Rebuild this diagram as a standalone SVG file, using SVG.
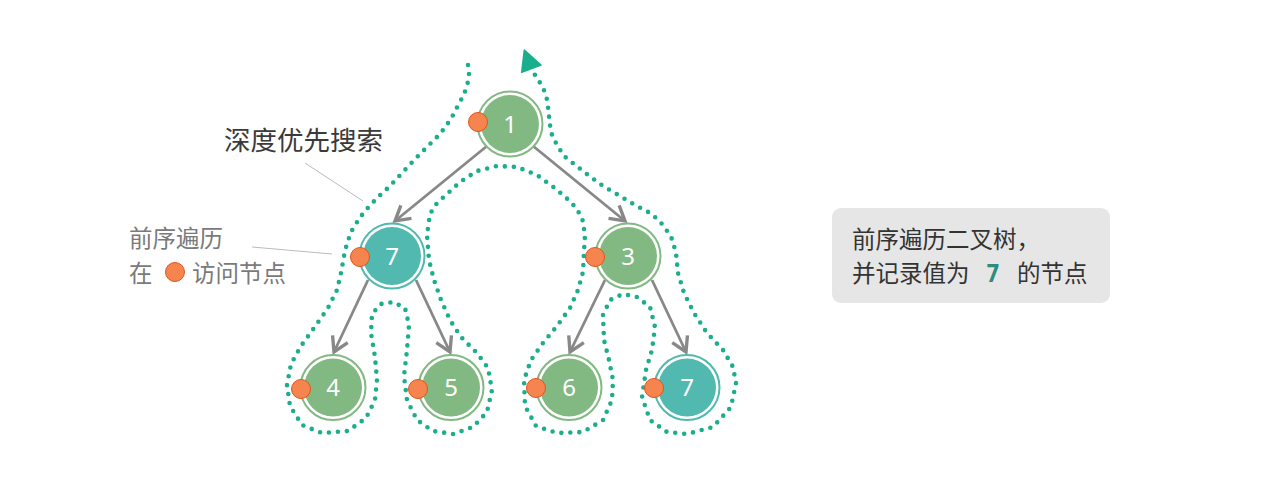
<svg xmlns="http://www.w3.org/2000/svg" width="1280" height="486" viewBox="0 0 1280 486">
<style>
.ring-g{fill:none;stroke:#82b982;stroke-width:2}
.fill-g{fill:#82b982}
.ring-t{fill:none;stroke:#52b9b0;stroke-width:2}
.fill-t{fill:#52b9b0}
.num{font-family:"Noto Sans","DejaVu Sans",sans-serif;font-size:24px;fill:#ffffff;text-anchor:middle}
.dot{fill:#f5844f;stroke:#e0541a;stroke-width:1}
.edge{stroke:#888888;stroke-width:2.8;fill:none;marker-end:url(#arr)}
.cjk{font-family:"Noto Sans CJK SC","Noto Sans",sans-serif}
.lead{stroke:#bbbbbb;stroke-width:1}
</style>
<defs>
<marker id="arr" markerUnits="userSpaceOnUse" markerWidth="24" markerHeight="24" refX="0" refY="0" viewBox="-14 -10 16 20" orient="auto">
<path d="M-12,-7 L0,0 L-12,7" fill="none" stroke="#888888" stroke-width="2.8" stroke-linejoin="miter"/>
</marker>
</defs>
<rect width="1280" height="486" fill="#ffffff"/>

<g id="connectors">
<line class="edge" x1="487" y1="146" x2="395" y2="221"/>
<line class="edge" x1="533" y1="146" x2="625" y2="221"/>
<line class="edge" x1="368" y1="280" x2="334" y2="352"/>
<line class="edge" x1="416" y1="280" x2="450" y2="352"/>
<line class="edge" x1="605" y1="280" x2="570" y2="352"/>
<line class="edge" x1="652" y1="280" x2="686" y2="352"/>
</g>

<g id="dfs-path">
<path d="M468,65 L469,74 467.5,84 464.5,93 460,102 455.5,110 451.5,118 446,126 440,134 430,144 417,157 403,172 390,186 377,198 364,212 353,228 347,243 344,256 341,273 337,290 328,308 314,328 301,346 291,364 287,385 290,406 302,425 322,433 348,431 366,418 375,400 377,380 375,357 371,333 372,314 381,304 393,302 405,308 409,325 407,350 404,376 407,400 417,420 433,431 453,434 473,427 487,412 492,390 488,368 477,353 461,337 450,320 441,300 434,280 429,260 427,235 430,214 437,203 447,194 460,182 477,171 497,166 517,167 537,175 556,189 572,203 582,217 585,235 584,252 583,272 578,290 570,308 557,326 543,343 531,360 524,380 525,406 536,426 557,433 583,432 603,420 612,400 613,380 609,360 604,340 603,315 610,300 623,294 637,297 650,307 655,327 652,350 646,370 642,397 650,420 667,432 687,434 713,427 731,407 736,383 733,367 723,350 707,333 694,313 684,293 678,273 676,253 672,239 664,226 652,214 635,205 620,196 603,186 588,175 574,164 564,156 557,145 552,135 550,125 549,116 548,107 546.5,97 543.5,89 539,81 533,72" fill="none" stroke="#1aae8c" stroke-width="4.6" stroke-linecap="round" stroke-linejoin="round" stroke-dasharray="0 9"/>
<polygon points="524.3,50 541,65 521.7,72.3" fill="#1aae8c" stroke="#1aae8c" stroke-width="1.5" stroke-linejoin="round"/>
</g>

<g id="node-1">
<circle class="ring-g" cx="510" cy="124" r="32.5"/>
<circle class="fill-g" cx="510" cy="124" r="29"/>
<text class="num" x="510" y="132.5">1</text>
<circle class="dot" cx="478" cy="122" r="9.5"/>
</g>
<g id="node-7a">
<circle class="ring-t" cx="392" cy="256" r="32.5"/>
<circle class="fill-t" cx="392" cy="256" r="29"/>
<text class="num" x="392" y="264.5">7</text>
<circle class="dot" cx="360" cy="257" r="9.5"/>
</g>
<g id="node-3">
<circle class="ring-g" cx="628" cy="256" r="32.5"/>
<circle class="fill-g" cx="628" cy="256" r="29"/>
<text class="num" x="628" y="264.5">3</text>
<circle class="dot" cx="595" cy="257" r="9.5"/>
</g>
<g id="node-4">
<circle class="ring-g" cx="333" cy="387.5" r="32.5"/>
<circle class="fill-g" cx="333" cy="387.5" r="29"/>
<text class="num" x="333" y="396">4</text>
<circle class="dot" cx="301" cy="389" r="9.5"/>
</g>
<g id="node-5">
<circle class="ring-g" cx="451" cy="387.5" r="32.5"/>
<circle class="fill-g" cx="451" cy="387.5" r="29"/>
<text class="num" x="451" y="396">5</text>
<circle class="dot" cx="418" cy="389" r="9.5"/>
</g>
<g id="node-6">
<circle class="ring-g" cx="569" cy="387.5" r="32.5"/>
<circle class="fill-g" cx="569" cy="387.5" r="29"/>
<text class="num" x="569" y="396">6</text>
<circle class="dot" cx="536" cy="388" r="9.5"/>
</g>
<g id="node-7b">
<circle class="ring-t" cx="687" cy="387.5" r="32.5"/>
<circle class="fill-t" cx="687" cy="387.5" r="29"/>
<text class="num" x="687" y="396">7</text>
<circle class="dot" cx="654" cy="388" r="9.5"/>
</g>

<g id="label-dfs">
<text class="cjk" x="224" y="150" font-size="26.5" fill="#3a3a3a">深度优先搜索</text>
<line class="lead" x1="305" y1="163" x2="363" y2="201"/>
</g>
<g id="label-preorder">
<text class="cjk" x="129" y="247" font-size="23.5" fill="#7a7a7a">前序遍历</text>
<text class="cjk" x="129" y="282" font-size="23.5" fill="#7a7a7a">在</text>
<circle class="dot" cx="175" cy="272" r="9.5"/>
<text class="cjk" x="192" y="282" font-size="23.5" fill="#7a7a7a">访问节点</text>
<line class="lead" x1="252" y1="247" x2="332" y2="254"/>
</g>

<g id="note">
<rect x="832" y="208" width="278" height="95" rx="9" ry="9" fill="#e6e6e6"/>
<text class="cjk" x="852" y="248" font-size="23.5" fill="#333333">前序遍历二叉树，</text>
<text class="cjk" x="852" y="282" font-size="23.5" fill="#333333">并记录值为</text>
<text x="993" y="282" font-size="24" font-weight="bold" fill="#2e8c7b" text-anchor="middle" font-family="'DejaVu Sans Mono','Liberation Mono',monospace">7</text>
<text class="cjk" x="1017" y="282" font-size="23.5" fill="#333333">的节点</text>
</g>
</svg>
